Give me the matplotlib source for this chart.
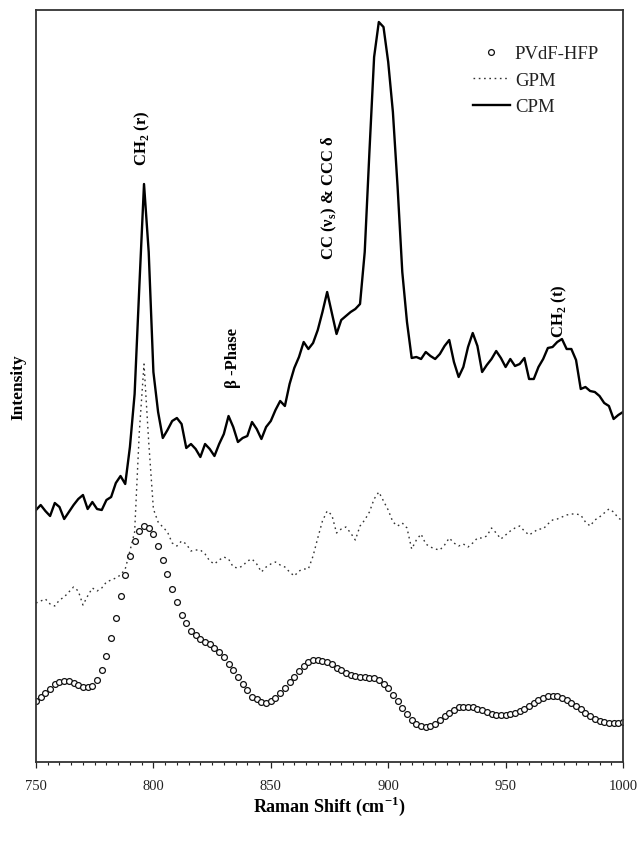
import matplotlib
matplotlib.use("Agg")
import matplotlib.pyplot as plt
import numpy as np
from matplotlib.ticker import MultipleLocator

plt.rcParams['font.family'] = ['Liberation Serif', 'DejaVu Serif']
plt.rcParams['mathtext.fontset'] = 'custom'
plt.rcParams['mathtext.rm'] = 'Liberation Serif'
plt.rcParams['mathtext.bf'] = 'Liberation Serif:bold'

# Raman shift axis, 2 cm-1 steps
shift = np.arange(750, 1001, 2)

pvdf_hfp = [
    60.7, 64.7, 69.0, 73.3, 78.0, 80.3, 81.3, 81.0, 79.0, 77.0,
    75.3, 75.3, 76.3, 82.3, 92.3, 106.0, 124.0, 144.3, 165.7, 187.0,
    206.0, 221.3, 230.7, 235.7, 233.7, 227.7, 216.3, 202.0, 188.0, 172.7,
    159.7, 147.3, 138.7, 131.3, 127.0, 123.3, 120.3, 117.7, 114.3, 110.3,
    105.0, 98.0, 91.7, 84.7, 78.0, 71.7, 65.3, 62.7, 60.3, 59.3,
    61.3, 64.3, 68.7, 73.7, 79.7, 85.3, 91.3, 96.3, 100.3, 102.3,
    102.3, 101.5, 100.0, 97.7, 94.3, 91.7, 89.3, 87.3, 86.0, 85.3,
    85.0, 84.3, 83.7, 81.7, 78.3, 73.7, 67.0, 61.3, 54.0, 47.7,
    42.3, 38.0, 36.0, 35.3, 35.7, 38.0, 41.7, 45.7, 49.0, 52.3,
    54.7, 55.3, 55.3, 54.7, 53.3, 51.7, 50.0, 48.3, 47.3, 47.0,
    47.0, 47.7, 49.0, 50.7, 53.0, 55.7, 59.0, 61.7, 64.0, 65.7,
    66.3, 66.0, 64.3, 62.0, 59.3, 56.0, 52.7, 49.3, 46.0, 43.0,
    41.0, 39.7, 38.7, 38.7, 39.3, 40.3,
]

gpm = [
    159, 161, 163, 158, 156, 162, 165, 170, 175, 171,
    157, 166, 174, 171, 174, 180, 182, 184, 187, 193,
    211, 230, 330, 398, 320, 253, 240, 235, 230, 219,
    216, 221, 218, 211, 212, 212, 208, 201, 198, 202,
    205, 203, 195, 194, 196, 201, 203, 198, 190, 195,
    198, 200, 197, 195, 190, 186, 191, 193, 193, 206,
    224, 241, 251, 247, 229, 233, 235, 229, 222, 236,
    242, 250, 263, 270, 261, 252, 240, 236, 239, 234,
    213, 222, 228, 218, 215, 213, 212, 217, 224, 219,
    216, 218, 215, 219, 224, 224, 226, 234, 229, 223,
    227, 231, 234, 236, 231, 227, 230, 233, 233, 238,
    242, 243, 245, 247, 248, 248, 247, 240, 236, 242,
    245, 249, 253, 250, 244, 241,
]

cpm = [
    252, 257, 251, 246, 259, 255, 243, 250, 257, 263,
    267, 253, 260, 253, 252, 262, 265, 279, 286, 278,
    315, 368, 475, 578, 510, 390, 350, 324, 332, 341,
    344, 338, 314, 318, 313, 305, 318, 313, 306, 318,
    328, 346, 335, 320, 324, 326, 340, 333, 323, 335,
    341, 352, 361, 356, 378, 394, 405, 420, 413, 419,
    432, 450, 470, 449, 428, 442, 446, 450, 453, 458,
    510, 610, 705, 740, 735, 700, 650, 575, 490, 440,
    404, 405, 403, 410, 406, 403, 408, 416, 422, 400,
    385, 395, 415, 429, 416, 390, 397, 403, 411, 404,
    395, 403, 396, 398, 404, 383, 383, 395, 403, 414,
    415, 420, 423, 413, 413, 402, 373, 375, 371, 370,
    366, 359, 356, 343, 347, 350,
]

fig = plt.figure(figsize=(6.41, 8.45), dpi=100)
ax = fig.add_axes([36 / 641, 1 - 763 / 845, 587 / 641, 752 / 845])

ax.plot(shift, pvdf_hfp, linestyle='none', marker='o', markersize=4.2,
        markerfacecolor='white', markeredgecolor='#111111', markeredgewidth=0.9,
        label='PVdF-HFP')
ax.plot(shift, gpm, color='#333333', linewidth=1.0, linestyle=(0, (1.2, 2.6)),
        label='GPM')
ax.plot(shift, cpm, color='black', linewidth=1.7, solid_joinstyle='round',
        label='CPM')

ax.set_xlim(750, 1000)
ax.set_ylim(0, 752)
ax.xaxis.set_major_locator(MultipleLocator(50))
ax.xaxis.set_minor_locator(MultipleLocator(5))
ax.tick_params(axis='x', which='major', direction='out', length=4.5, width=0.9,
               labelsize=10.5, pad=8, colors='#222222')
ax.tick_params(axis='x', which='minor', direction='out', length=2.5, width=0.8,
               colors='#222222')
ax.set_yticks([])
for side in ['left', 'right', 'top', 'bottom']:
    ax.spines[side].set_linewidth(1.3)
    ax.spines[side].set_color('#333333')

ax.set_xlabel(r'Raman Shift (cm$^{\mathbf{-1}}$)', fontsize=13, fontweight='bold')
ax.xaxis.set_label_coords(0.5, -0.042)
ax.set_ylabel('Intensity', fontsize=12.5, fontweight='bold')
ax.yaxis.set_label_coords(-0.017, 0.5)

# peak assignments
ax.text(795.4, 625, r'CH$_{\mathbf{2}}$ (r)', rotation=90, ha='center', va='center',
        fontsize=12, fontweight='bold')
ax.text(834, 405, 'β -Phase', rotation=90, ha='center', va='center',
        fontsize=12, fontweight='bold')
ax.text(874.8, 565, r'CC (ν$_{\mathbf{s}}$) & CCC δ', rotation=90, ha='center',
        va='center', fontsize=12, fontweight='bold')
ax.text(972.7, 452, r'CH$_{\mathbf{2}}$ (t)', rotation=90, ha='center', va='center',
        fontsize=12, fontweight='bold')

leg = ax.legend(loc='upper left', bbox_to_anchor=(0.728, 0.966), frameon=False,
                fontsize=13.5, handlelength=2.0, handletextpad=0.25,
                labelspacing=0.5, borderpad=0, numpoints=1)
for txt in leg.get_texts():
    txt.set_color('#222222')

fig.savefig('out.png', dpi=100)
